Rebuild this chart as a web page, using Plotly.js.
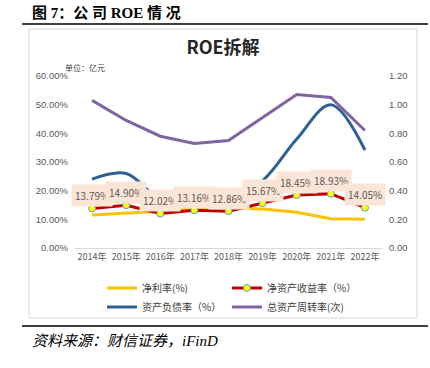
<!DOCTYPE html>
<html>
<head>
<meta charset="utf-8">
<script src="https://cdn.plot.ly/plotly-3.0.1.min.js"></script>
<style>
html,body{margin:0;padding:0;background:#fff;}
#chart{width:430px;height:368px;}
</style>
</head>
<body>
<div id="chart"></div>
<script>
// ---- data ----
const years = ["2014年","2015年","2016年","2017年","2018年","2019年","2020年","2021年","2022年"];
const netMargin = [11.5, 12.1, 12.8, 14.1, 14.0, 13.6, 12.5, 10.2, 10.0];       // 净利率(%)
const roe = [13.79, 14.90, 12.02, 13.16, 12.86, 15.67, 18.45, 18.93, 14.05];      // 净资产收益率（%）
const debtRatio = [24.0, 26.0, 17.0, 16.0, 17.0, 23.5, 38.0, 50.0, 34.2];        // 资产负债率（%）
const turnover = [1.03, 0.89, 0.78, 0.73, 0.75, 0.91, 1.07, 1.05, 0.82];          // 总资产周转率(次)
const leftTicks = [0, 10, 20, 30, 40, 50, 60];
const rightTicks = [0, 0.2, 0.4, 0.6, 0.8, 1.0, 1.2];

const CJK = '"Noto Sans CJK SC", "Noto Sans", sans-serif';
const tickColor = '#595959';

const traces = [
  {x: years, y: netMargin, name: '净利率(%)', type: 'scatter', mode: 'lines',
   line: {color: '#FFC000', width: 3}, yaxis: 'y'},
  {x: years, y: roe, name: '净资产收益率（%）', type: 'scatter', mode: 'lines+markers',
   line: {color: '#C00000', width: 3},
   marker: {color: '#FFFF00', size: 7, line: {color: '#5B9BD5', width: 1}}, yaxis: 'y'},
  {x: years, y: debtRatio, name: '资产负债率（%）', type: 'scatter', mode: 'lines',
   line: {color: '#2F5F95', width: 3, shape: 'spline', smoothing: 1}, yaxis: 'y'},
  {x: years, y: turnover, name: '总资产周转率(次)', type: 'scatter', mode: 'lines',
   line: {color: '#8064A2', width: 3}, yaxis: 'y2'}
];

const labelAnns = years.map((yr, i) => ({
  x: yr, y: roe[i], xref: 'x', yref: 'y', text: roe[i].toFixed(2) + '%',
  showarrow: false, yshift: 13, bgcolor: '#FBE5D6', borderpad: 3,
  font: {family: CJK, size: 10, color: '#595959'}
}));

const layout = {
  width: 430, height: 368,
  margin: {l: 75, r: 48, t: 76, b: 120, autoexpand: false},
  paper_bgcolor: '#fff', plot_bgcolor: '#fff',
  font: {family: CJK, color: tickColor},
  title: {text: '<b>ROE拆解</b>', x: 0.5186, y: 0.8696, xanchor: 'center', yanchor: 'middle',
          font: {family: CJK, size: 18, color: '#262626'}},
  showlegend: true,
  legend: {orientation: 'h', x: 0.088, xanchor: 'left', y: -0.148, yanchor: 'top',
           entrywidth: 80, itemwidth: 30, traceorder: 'normal', tracegroupgap: 0,
           font: {family: CJK, size: 10, color: '#404040'}, bgcolor: 'rgba(0,0,0,0)'},
  xaxis: {type: 'category', range: [-0.5, 8.5], showgrid: false, zeroline: false,
          showline: true, linecolor: '#D9D9D9', linewidth: 1, ticks: '',
          tickfont: {family: CJK, size: 9, color: tickColor}, fixedrange: true},
  yaxis: {range: [0, 60], tickvals: leftTicks, ticktext: leftTicks.map(v => v.toFixed(2) + '%'),
          showgrid: false, zeroline: false, showline: false, ticks: '',
          ticklabelstandoff: 6,
          tickfont: {family: '"Liberation Sans", Arial, sans-serif', size: 9.5, color: tickColor}},
  yaxis2: {range: [0, 1.2], tickvals: rightTicks, ticktext: rightTicks.map(v => v.toFixed(2)),
           overlaying: 'y', side: 'right', showgrid: false, zeroline: false, showline: false,
           ticks: '', ticklabelstandoff: 6,
           tickfont: {family: '"Liberation Sans", Arial, sans-serif', size: 9.5, color: tickColor}},
  shapes: [
    {type: 'rect', xref: 'paper', yref: 'paper', x0: -0.1498, x1: 1.114, y0: -0.407, y1: 1.2733,
     line: {color: '#D9D9D9', width: 1}, fillcolor: 'rgba(0,0,0,0)', layer: 'below'},
    {type: 'line', xref: 'paper', yref: 'paper', x0: -0.1726, x1: 1.1498, y0: 1.3023, y1: 1.3023,
     line: {color: '#000', width: 1.5}},
    {type: 'line', xref: 'paper', yref: 'paper', x0: -0.1726, x1: 1.1498, y0: -0.4535, y1: -0.4535,
     line: {color: '#000', width: 1.5}}
  ],
  annotations: labelAnns.concat([
    {xref: 'paper', yref: 'paper', x: -0.1466, y: 1.372, xanchor: 'left', yanchor: 'middle',
     text: '<b>图 7：公 司 ROE 情 况</b>', showarrow: false,
     font: {family: '"Liberation Serif", "Noto Sans CJK SC", serif', size: 15, color: '#000'}},
    {xref: 'paper', yref: 'paper', x: -0.0391, y: 1.052, xanchor: 'left', yanchor: 'middle',
     text: '单位：亿元', showarrow: false,
     font: {family: CJK, size: 8, color: '#404040'}},
    {xref: 'paper', yref: 'paper', x: -0.1466, y: -0.5407, xanchor: 'left', yanchor: 'middle',
     text: '<i>资料来源：财信证券，iFinD</i>', showarrow: false,
     font: {family: '"Liberation Serif", "Noto Sans CJK SC", serif', size: 15, color: '#000'}}
  ])
};

Plotly.newPlot('chart', traces, layout, {displayModeBar: false, staticPlot: true});
</script>
</body>
</html>
